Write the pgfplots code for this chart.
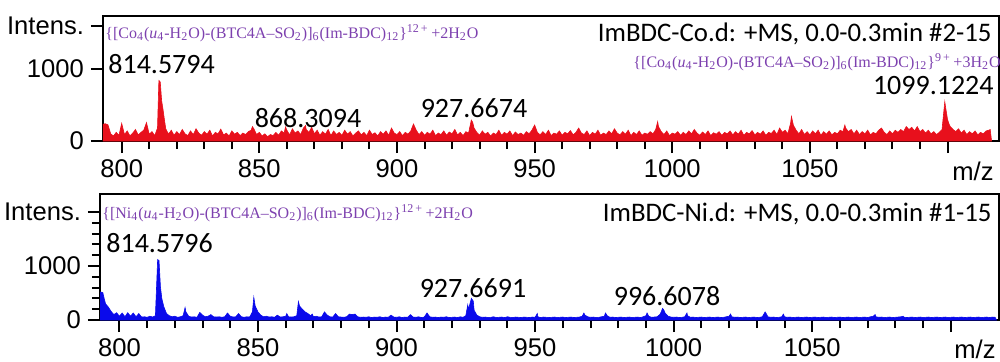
\documentclass[border=0pt]{standalone}
\usepackage{fontspec}
\setmainfont{Carlito}
\newfontfamily\arialf{Liberation Sans}
\newfontfamily\timesf[Ligatures=TeX]{Liberation Serif}
\usepackage{pgfplots}
\pgfplotsset{compat=1.18}
\definecolor{specred}{RGB}{232,16,28}
\definecolor{specblue}{RGB}{10,10,235}
\definecolor{formpurple}{RGB}{125,65,175}
\pgfplotsset{
  msaxis/.style={
    scale only axis, anchor=south west,
    axis line style={line width=1pt},
    every tick/.style={line width=1pt, black},
    tick align=outside,
    major tick length=6pt, minor tick length=4pt,
    xtick pos=bottom, ytick pos=left,
    xtick={800,850,900,950,1000,1050,1100},
    xticklabels={800,850,900,950,1000,1050,{}},
    minor x tick num=4, minor y tick num=4,
    tick label style={font=\arialf\fontsize{12.8}{14}\selectfont},
    ymin=0,
    clip=true,
  }
}
\begin{document}
\begin{tikzpicture}
\useasboundingbox (0,0) rectangle (500pt,180.5pt);
% ---------- top panel (Co) ----------
\begin{axis}[msaxis, at={(51.5pt,110pt)}, width=448pt, height=62.5pt,
  xmin=793.2, xmax=1118.7, ymax=1736,
  ytick={0,1000,1600}, yticklabels={0,1000,Intens.}]
\addplot[draw=specred, line width=0.3pt, fill=specred] coordinates {
(793,230)(794,240)(795,225)(796,100)(797,70)(798,120)(799,80)(800,245)(801,90)(802,140)
(803,70)(804,110)(805,160)(806,85)(807,120)(808,150)(809,255)(810,95)(811,130)(812,75)
(813,180)(813.5,840)(814,820)(814.5,560)(815,440)(815.5,300)(816,170)(817,95)(818,150)(819,80)
(820,130)(821,90)(822,160)(823,100)(824,75)(825,140)(826,90)(827,170)(828,110)(829,80)
(830,130)(831,95)(832,150)(833,70)(834,120)(835,100)(836,165)(837,85)(838,110)(839,70)
(840,140)(841,95)(842,120)(843,75)(844,110)(845,90)(846,130)(847,150)(847.5,200)(848,170)
(849,90)(850,120)(851,70)(852,100)(853,60)(854,90)(855,75)(856,120)(857,80)(858,140)
(859,110)(859.5,195)(860,150)(861,85)(862,170)(863,110)(864,140)(865,90)(866,180)(866.8,215)
(867,160)(868,120)(869,190)(870,100)(871,150)(872,80)(873,130)(874,95)(875,160)(876,75)
(877,140)(878,90)(879,120)(880,80)(881,150)(882,95)(883,130)(884,70)(885,110)(886,140)
(887,85)(888,120)(889,75)(890,150)(891,90)(892,115)(893,70)(894,130)(895,95)(896,140)
(897,80)(898,180)(899,110)(900,90)(901,130)(902,75)(903,120)(904,95)(905,140)(906,236)
(907,150)(908,90)(909,130)(910,80)(911,120)(912,95)(913,150)(914,75)(915,110)(916,90)
(917,140)(918,80)(919,125)(920,100)(921,160)(922,85)(923,120)(924,75)(925,130)(926,110)
(927,290)(927.5,260)(928,180)(929,120)(930,80)(931,140)(932,95)(933,120)(934,70)(935,110)
(936,90)(937,150)(938,80)(939,120)(940,95)(941,140)(942,75)(943,125)(944,90)(945,110)
(946,80)(947,130)(948,100)(949,150)(950,222)(951,120)(952,85)(953,130)(954,90)(955,150)
(956,75)(957,110)(958,95)(959,140)(960,80)(961,120)(962,100)(963,145)(964,85)(965,120)
(966,180)(967,110)(968,90)(969,140)(970,75)(971,120)(972,95)(973,150)(974,80)(975,110)
(976,90)(977,140)(978,100)(979,170)(980,110)(981,85)(982,130)(983,95)(984,150)(985,75)
(986,120)(987,90)(988,140)(989,80)(990,110)(991,95)(992,130)(993,100)(994,160)(994.7,268)
(995,200)(996,130)(997,90)(998,140)(999,75)(1000,110)(1001,95)(1002,130)(1003,80)(1004,120)
(1005,90)(1006,140)(1007,100)(1008,160)(1009,110)(1010,80)(1011,125)(1012,90)(1013,140)(1014,75)
(1015,115)(1016,95)(1017,130)(1018,80)(1019,120)(1020,100)(1021,140)(1022,85)(1023,130)(1024,95)
(1025,150)(1026,80)(1027,120)(1028,100)(1029,145)(1030,85)(1031,120)(1032,95)(1033,140)(1034,80)
(1035,120)(1036,105)(1037,150)(1038,90)(1039,180)(1040,120)(1041,150)(1042,100)(1043,250)(1043.3,340)
(1044,220)(1045,150)(1046,100)(1047,160)(1048,90)(1049,130)(1050,85)(1051,140)(1052,100)(1053,150)
(1054,80)(1055,130)(1056,95)(1057,140)(1058,85)(1059,120)(1060,100)(1061,150)(1062,130)(1062.7,222)
(1063,180)(1064,130)(1065,160)(1066,100)(1067,150)(1068,90)(1069,130)(1070,100)(1071,150)(1072,85)
(1073,120)(1074,100)(1075,150)(1076,180)(1077,120)(1078,90)(1079,140)(1080,100)(1081,150)(1082,120)
(1083,160)(1084,130)(1085,200)(1086,160)(1087,190)(1088,140)(1089,200)(1090,130)(1091,160)(1092,110)
(1093,150)(1094,100)(1095,130)(1096,90)(1097,120)(1098,160)(1099,546)(1099.5,420)(1100,300)(1100.5,240)
(1101,200)(1102,160)(1103,130)(1104,170)(1105,110)(1106,150)(1107,90)(1108,130)(1109,100)(1110,140)
(1111,85)(1112,120)(1113,100)(1114,140)(1115,150)(1115.5,160)(1116,0)
} \closedcycle;
\end{axis}
% ---------- bottom panel (Ni) ----------
\begin{axis}[msaxis, at={(50pt,20.5pt)}, width=449.5pt, height=63pt,
  xmin=793.0, xmax=1117.4, ymax=2333,
  ytick={0,1000,2000}, yticklabels={0,1000,Intens.}]
\addplot[draw=specblue, line width=0.3pt, fill=specblue] coordinates {
(793,520)(794,510)(794.5,400)(795,300)(796,240)(797,160)(798,100)(799,135)(800,70)(801,130)
(802,60)(803,135)(804,70)(805,130)(806,60)(807,120)(808,55)(809,60)(810,50)(811,70)
(812,55)(813,80)(813.8,1120)(814.3,1100)(814.8,620)(815.3,400)(816,250)(817,120)(818,80)(819,60)
(820,70)(821,50)(822,60)(823,80)(823.7,230)(824,150)(825,70)(826,55)(827,60)(828,50)
(829,140)(830,90)(831,60)(832,70)(833,100)(834,60)(835,55)(836,60)(837,50)(838,60)
(839,130)(840,70)(841,55)(842,60)(843,120)(844,60)(845,50)(846,60)(847,55)(848,150)
(848.5,420)(849,260)(850,150)(851,90)(852,60)(853,70)(854,55)(855,60)(856,50)(857,90)
(858,55)(859,60)(860,70)(860.4,120)(861,60)(862,55)(863,60)(864,80)(864.6,340)(865,260)
(866,200)(867,150)(868,120)(869,80)(869.6,110)(870,60)(871,70)(872,55)(873,60)(874,150)
(875,90)(876,60)(877,55)(878,120)(879,60)(880,55)(881,50)(882,60)(883,110)(884,100)
(885,110)(886,60)(887,50)(888,55)(889,50)(890,60)(891,45)(892,55)(893,50)(894,60)
(895,45)(896,55)(897,50)(898,90)(899,55)(900,50)(901,60)(902,45)(903,55)(904,50)
(905,100)(906,55)(907,50)(908,60)(909,45)(910,55)(911,130)(912,60)(913,50)(914,55)
(915,45)(916,55)(917,50)(918,60)(919,45)(920,50)(921,55)(922,45)(923,60)(924,50)
(925,80)(925.7,280)(926,200)(927,400)(927.7,350)(928,180)(929,90)(930,60)(931,50)(932,55)
(933,45)(934,50)(935,60)(936,45)(937,50)(938,55)(939,45)(940,60)(941,50)(942,45)
(943,55)(944,50)(945,45)(946,55)(947,50)(948,45)(949,55)(950,50)(950.8,120)(951,60)
(952,45)(953,55)(954,50)(955,45)(956,50)(957,55)(958,45)(959,50)(960,55)(961,45)
(962,50)(963,55)(964,45)(965,50)(966,55)(967,70)(967.6,130)(968,90)(969,60)(970,50)
(971,55)(972,45)(973,50)(974,60)(975,70)(975.4,130)(976,80)(977,50)(978,55)(979,45)
(980,50)(981,55)(982,45)(983,50)(984,55)(985,45)(986,50)(987,55)(988,45)(989,60)
(990,80)(990.4,130)(991,70)(992,50)(993,55)(994,60)(995,100)(995.5,150)(996,215)(996.5,180)
(997,120)(998,70)(999,55)(1000,50)(1001,55)(1002,45)(1003,50)(1004,60)(1004.8,130)(1005,80)
(1006,50)(1007,55)(1008,45)(1009,50)(1010,55)(1011,45)(1012,50)(1013,55)(1014,45)(1015,50)
(1016,55)(1017,45)(1018,50)(1019,60)(1020,70)(1020.5,110)(1021,60)(1022,50)(1023,55)(1024,45)
(1025,50)(1026,55)(1027,45)(1028,50)(1029,55)(1030,45)(1031,50)(1032,60)(1033,150)(1033.5,110)
(1034,60)(1035,50)(1036,55)(1037,45)(1038,50)(1039,60)(1039.6,110)(1040,60)(1041,50)(1042,55)
(1043,45)(1044,50)(1045,55)(1046,45)(1047,50)(1048,55)(1049,45)(1050,50)(1051,55)(1052,45)
(1053,50)(1054,55)(1055,45)(1056,50)(1057,55)(1058,45)(1059,50)(1060,55)(1061,45)(1062,50)
(1063,55)(1064,45)(1065,50)(1066,55)(1067,45)(1068,50)(1069,55)(1070,45)(1071,60)(1072,70)
(1072.7,100)(1073,60)(1074,50)(1075,55)(1076,45)(1077,50)(1078,55)(1079,45)(1080,50)(1081,55)
(1082,60)(1082.8,70)(1083,55)(1084,45)(1085,50)(1086,55)(1087,45)(1088,50)(1089,55)(1090,45)
(1091,50)(1092,55)(1093,45)(1094,50)(1095,55)(1096,45)(1097,50)(1098,55)(1099,45)(1100,50)
(1101,55)(1102,45)(1103,50)(1104,55)(1105,45)(1106,50)(1107,55)(1108,45)(1109,50)(1110,55)
(1111,45)(1112,50)(1113,55)(1114,45)(1115,55)(1116,50)(1116.5,0)
} \closedcycle;
\end{axis}
% ---------- annotations ----------
\tikzset{pk/.style={inner sep=0pt, font=\fontsize{14}{16}\selectfont}}
\tikzset{hd/.style={inner sep=0pt, font=\fontsize{13.4}{16}\selectfont}}
\tikzset{fm/.style={inner sep=0pt, text=formpurple, font=\timesf\fontsize{8}{9}\selectfont}}
% top
\node[fm, anchor=west] at (52.5pt,164pt) {\{[Co\textsubscript{4}(\textit{u}\textsubscript{4}-H\textsubscript{2}O)-(BTC4A–SO\textsubscript{2})]\textsubscript{6}(Im-BDC)\textsubscript{12}\}\textsuperscript{12\,+}\,+2H\textsubscript{2}O};
\node[pk, anchor=west] at (54pt,148.5pt) {814.5794};
\node[pk] at (154pt,121.5pt) {868.3094};
\node[pk] at (237pt,126.5pt) {927.6674};
\node[hd, anchor=east] at (496pt,163.5pt) {ImBDC-Co.d: +MS, 0.0-0.3min \#2-15};
\node[fm, anchor=east] at (500.5pt,149.5pt) {\{[Co\textsubscript{4}(\textit{u}\textsubscript{4}-H\textsubscript{2}O)-(BTC4A–SO\textsubscript{2})]\textsubscript{6}(Im-BDC)\textsubscript{12}\}\textsuperscript{9\,+}\,+3H\textsubscript{2}O};
\node[pk, anchor=east] at (497pt,137.5pt) {1099.1224};
\node[inner sep=0pt, font=\arialf\fontsize{12.8}{14}\selectfont] at (486.5pt,95pt) {m/z};
% bottom
\node[fm, anchor=west] at (51pt,74pt) {\{[Ni\textsubscript{4}(\textit{u}\textsubscript{4}-H\textsubscript{2}O)-(BTC4A–SO\textsubscript{2})]\textsubscript{6}(Im-BDC)\textsubscript{12}\}\textsuperscript{12\,+}\,+2H\textsubscript{2}O};
\node[pk, anchor=west] at (53pt,59pt) {814.5796};
\node[pk] at (236.5pt,36.5pt) {927.6691};
\node[pk] at (333.5pt,32.5pt) {996.6078};
\node[hd, anchor=east] at (496pt,73.5pt) {ImBDC-Ni.d: +MS, 0.0-0.3min \#1-15};
\node[inner sep=0pt, font=\arialf\fontsize{12.8}{14}\selectfont] at (487.5pt,6pt) {m/z};
\end{tikzpicture}
\end{document}
